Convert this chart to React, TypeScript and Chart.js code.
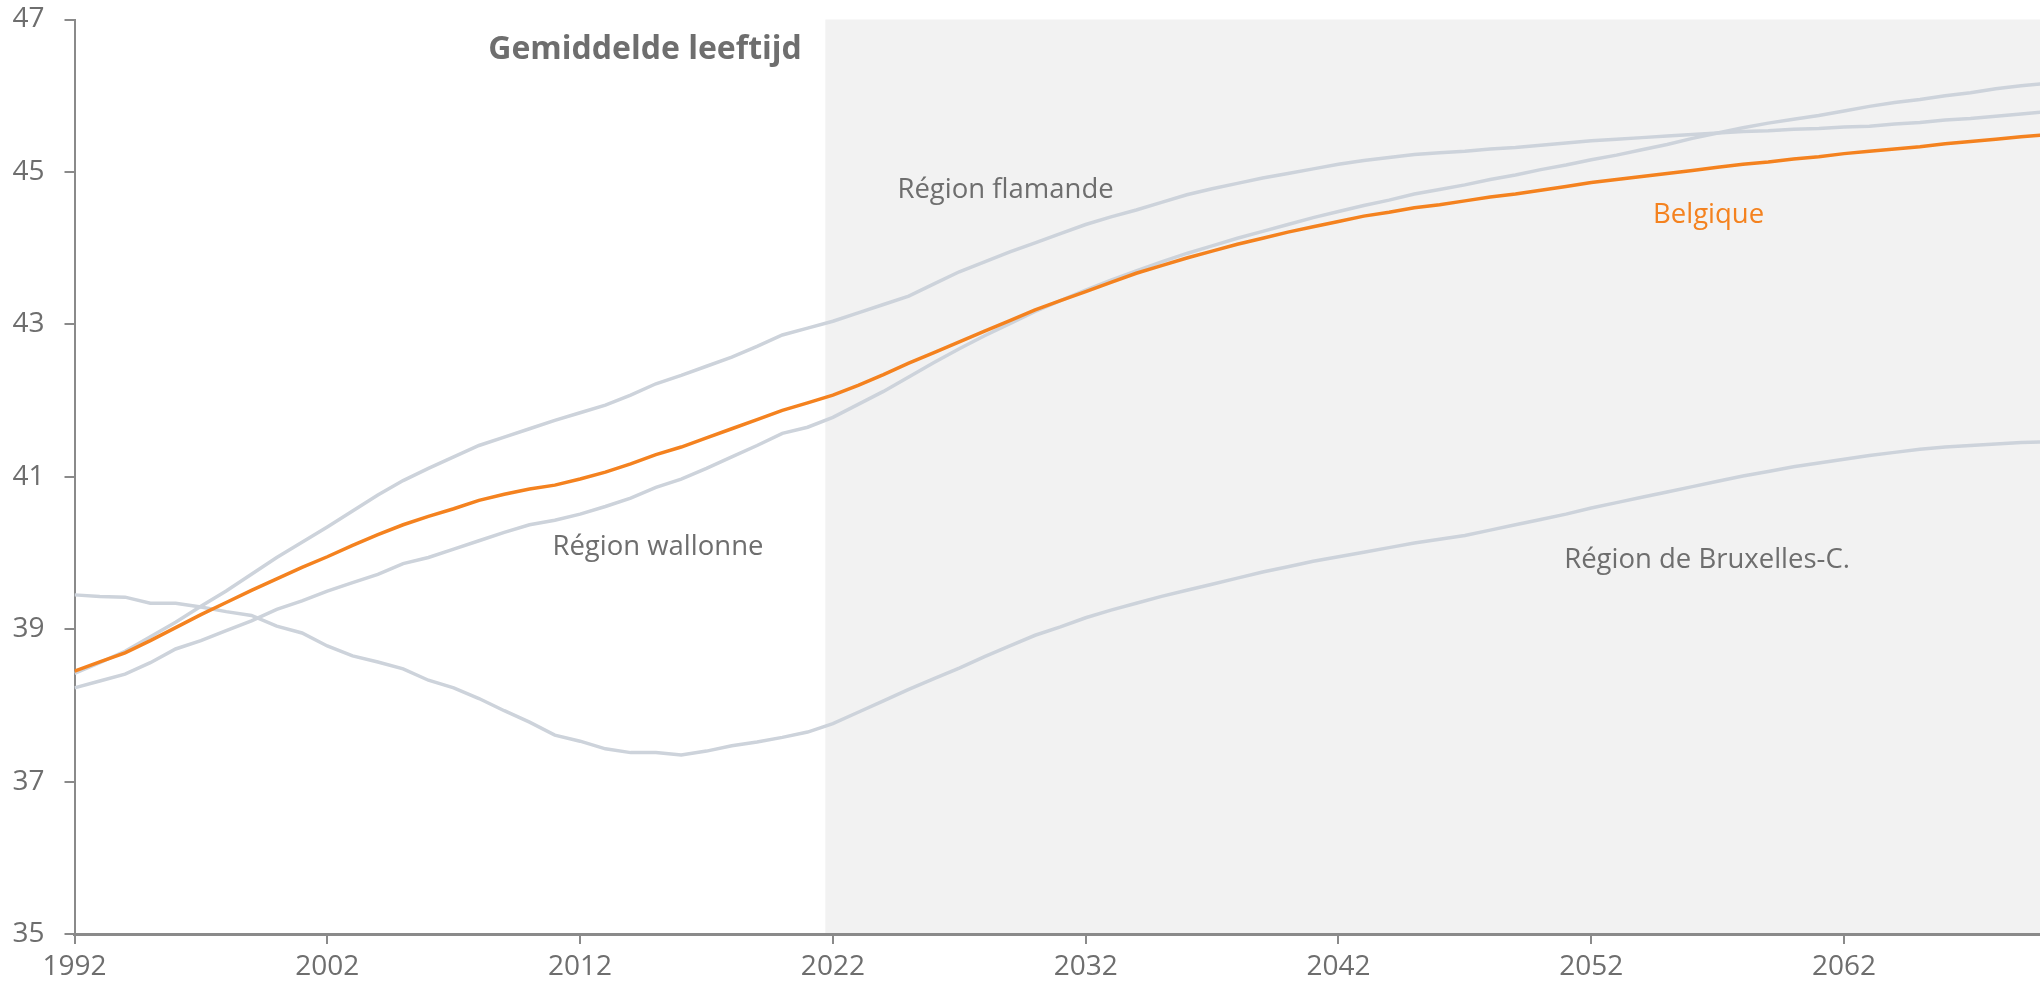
import { useEffect, useRef } from 'react';
import { Chart, registerables } from 'chart.js';

Chart.register(...registerables);

const years = [
  1992, 1993, 1994, 1995, 1996, 1997, 1998, 1999, 2000, 2001,
  2002, 2003, 2004, 2005, 2006, 2007, 2008, 2009, 2010, 2011,
  2012, 2013, 2014, 2015, 2016, 2017, 2018, 2019, 2020, 2021,
  2022, 2023, 2024, 2025, 2026, 2027, 2028, 2029, 2030, 2031,
  2032, 2033, 2034, 2035, 2036, 2037, 2038, 2039, 2040, 2041,
  2042, 2043, 2044, 2045, 2046, 2047, 2048, 2049, 2050, 2051,
  2052, 2053, 2054, 2055, 2056, 2057, 2058, 2059, 2060, 2061,
  2062, 2063, 2064, 2065, 2066, 2067, 2068, 2069, 2070,
];

const belgique = [
  38.45, 38.57, 38.69, 38.85, 39.02, 39.19, 39.35, 39.51, 39.66, 39.81,
  39.95, 40.10, 40.24, 40.37, 40.48, 40.58, 40.69, 40.77, 40.84, 40.89,
  40.97, 41.06, 41.17, 41.29, 41.39, 41.51, 41.63, 41.75, 41.87, 41.97,
  42.07, 42.20, 42.34, 42.49, 42.63, 42.77, 42.91, 43.05, 43.19, 43.31,
  43.43, 43.55, 43.67, 43.77, 43.87, 43.96, 44.05, 44.13, 44.21, 44.28,
  44.35, 44.42, 44.47, 44.53, 44.57, 44.62, 44.67, 44.71, 44.76, 44.81,
  44.86, 44.90, 44.94, 44.98, 45.02, 45.06, 45.10, 45.13, 45.17, 45.20,
  45.24, 45.27, 45.30, 45.33, 45.37, 45.40, 45.43, 45.46, 45.49,
];

const flamande = [
  38.42, 38.56, 38.71, 38.90, 39.09, 39.30, 39.50, 39.72, 39.94, 40.14,
  40.34, 40.55, 40.76, 40.95, 41.11, 41.26, 41.41, 41.52, 41.63, 41.74,
  41.84, 41.94, 42.07, 42.22, 42.33, 42.45, 42.57, 42.71, 42.86, 42.95,
  43.04, 43.15, 43.26, 43.37, 43.53, 43.69, 43.82, 43.95, 44.07, 44.19,
  44.31, 44.41, 44.50, 44.60, 44.70, 44.78, 44.85, 44.92, 44.98, 45.04,
  45.10, 45.15, 45.19, 45.23, 45.25, 45.27, 45.30, 45.32, 45.35, 45.38,
  45.41, 45.43, 45.45, 45.47, 45.49, 45.51, 45.53, 45.54, 45.56, 45.57,
  45.59, 45.60, 45.63, 45.65, 45.68, 45.70, 45.73, 45.76, 45.79,
];

const wallonne = [
  38.23, 38.32, 38.41, 38.56, 38.74, 38.85, 38.98, 39.11, 39.26, 39.37,
  39.50, 39.61, 39.72, 39.86, 39.94, 40.05, 40.16, 40.27, 40.37, 40.43,
  40.51, 40.61, 40.72, 40.86, 40.97, 41.11, 41.26, 41.41, 41.57, 41.65,
  41.78, 41.95, 42.12, 42.31, 42.50, 42.68, 42.85, 43.01, 43.17, 43.31,
  43.45, 43.58, 43.70, 43.82, 43.93, 44.03, 44.13, 44.22, 44.31, 44.40,
  44.48, 44.56, 44.63, 44.71, 44.77, 44.83, 44.90, 44.96, 45.03, 45.09,
  45.16, 45.22, 45.29, 45.36, 45.44, 45.51, 45.58, 45.64, 45.69, 45.74,
  45.80, 45.86, 45.91, 45.95, 46.00, 46.04, 46.09, 46.13, 46.16,
];

const bruxelles = [
  39.45, 39.43, 39.42, 39.34, 39.34, 39.29, 39.23, 39.18, 39.04, 38.95,
  38.78, 38.65, 38.57, 38.48, 38.33, 38.23, 38.09, 37.93, 37.78, 37.61,
  37.53, 37.43, 37.38, 37.38, 37.35, 37.40, 37.47, 37.52, 37.58, 37.65,
  37.76, 37.91, 38.06, 38.21, 38.35, 38.49, 38.64, 38.78, 38.92, 39.03,
  39.15, 39.25, 39.34, 39.43, 39.51, 39.59, 39.67, 39.75, 39.82, 39.89,
  39.95, 40.01, 40.07, 40.13, 40.18, 40.23, 40.30, 40.37, 40.44, 40.51,
  40.59, 40.66, 40.73, 40.80, 40.87, 40.94, 41.01, 41.07, 41.13, 41.18,
  41.23, 41.28, 41.32, 41.36, 41.39, 41.41, 41.43, 41.45, 41.46,
];

const xTickYears = [1992, 2002, 2012, 2022, 2032, 2042, 2052, 2062];
const yMin = 35;
const yMax = 47;
const yStep = 2;
const projectionStart = 2021.7;

const titleText = 'Gemiddelde leeftijd';
const labelTexts = ['Région flamande', 'Belgique', 'Région wallonne', 'Région de Bruxelles-C.'];
const labelYears = [2028.83, 2056.64, 2015.08, 2056.58];
const labelValues = [44.76, 44.43, 40.08, 39.91];

const ORANGE = '#f4821f';
const GREY_LINE = '#cdd3db';
const TEXT = '#6e6e6e';
const AXIS = '#8a8a8a';
const FONT = "'Open Sans', sans-serif";
const labelColors = [TEXT, ORANGE, TEXT, TEXT];

const overlayPlugin = {
  id: 'overlay',
  beforeDraw(chart: any) {
    const { ctx, chartArea, scales } = chart;
    const x0 = scales.x.getPixelForValue(projectionStart);
    ctx.save();
    ctx.fillStyle = '#f2f2f2';
    ctx.fillRect(x0, chartArea.top, chartArea.right - x0, chartArea.bottom - chartArea.top);
    ctx.restore();
  },
  afterDatasetsDraw(chart: any) {
    const { ctx, scales } = chart;
    ctx.save();
    ctx.textAlign = 'center';
    ctx.textBaseline = 'middle';
    ctx.font = `bold 32px ${FONT}`;
    ctx.fillStyle = TEXT;
    ctx.fillText(titleText, scales.x.getPixelForValue(2014.57), scales.y.getPixelForValue(46.6));
    ctx.font = `27.5px ${FONT}`;
    labelTexts.forEach((t, i) => {
      ctx.fillStyle = labelColors[i];
      ctx.fillText(t, scales.x.getPixelForValue(labelYears[i]), scales.y.getPixelForValue(labelValues[i]));
    });
    ctx.restore();
  },
};

const toPoints = (vals: number[]) => years.map((yr, i) => ({ x: yr, y: vals[i] }));

export default function App() {
  const ref = useRef<HTMLCanvasElement>(null);
  useEffect(() => {
    document.body.style.margin = '0';
    const chart = new Chart(ref.current as HTMLCanvasElement, {
      type: 'line',
      data: {
        datasets: [
          { label: 'Belgique', data: toPoints(belgique), borderColor: ORANGE, borderWidth: 3.5, pointRadius: 0, tension: 0 },
          { label: 'Région flamande', data: toPoints(flamande), borderColor: GREY_LINE, borderWidth: 3.5, pointRadius: 0, tension: 0 },
          { label: 'Région wallonne', data: toPoints(wallonne), borderColor: GREY_LINE, borderWidth: 3.5, pointRadius: 0, tension: 0 },
          { label: 'Région de Bruxelles-C.', data: toPoints(bruxelles), borderColor: GREY_LINE, borderWidth: 3.5, pointRadius: 0, tension: 0 },
        ],
      },
      options: {
        responsive: false,
        animation: false,
        layout: { padding: { top: 19.5, right: 0, left: 0, bottom: 0 } },
        plugins: { legend: { display: false }, tooltip: { enabled: false } },
        scales: {
          x: {
            type: 'linear',
            min: 1992,
            max: 2069.75,
            afterBuildTicks: (s: any) => {
              s.ticks = xTickYears.map((v) => ({ value: v }));
            },
            afterFit: (s: any) => {
              s.height = 48;
            },
            ticks: {
              autoSkip: false,
              maxRotation: 0,
              padding: 6,
              color: TEXT,
              font: { family: FONT, size: 28 },
              callback: (v: any) => String(v),
            },
            grid: { drawOnChartArea: false, drawTicks: true, tickLength: 10, color: AXIS, lineWidth: 2 },
            border: { display: true, color: AXIS, width: 3 },
          },
          y: {
            min: yMin,
            max: yMax,
            afterFit: (s: any) => {
              s.width = 74.5;
              s.paddingTop = 0;
              s.paddingBottom = 0;
            },
            ticks: {
              stepSize: yStep,
              padding: 20,
              color: TEXT,
              font: { family: FONT, size: 28 },
              callback: (v: any) => String(v),
            },
            grid: { drawOnChartArea: false, drawTicks: true, tickLength: 10, color: AXIS, lineWidth: 2 },
            border: { display: true, color: AXIS, width: 2 },
          },
        },
      },
      plugins: [overlayPlugin],
    });
    return () => chart.destroy();
  }, []);
  return (
    <canvas
      ref={ref}
      width={2040}
      height={982}
      style={{ position: 'absolute', left: 0, top: 0, display: 'block' }}
    />
  );
}
